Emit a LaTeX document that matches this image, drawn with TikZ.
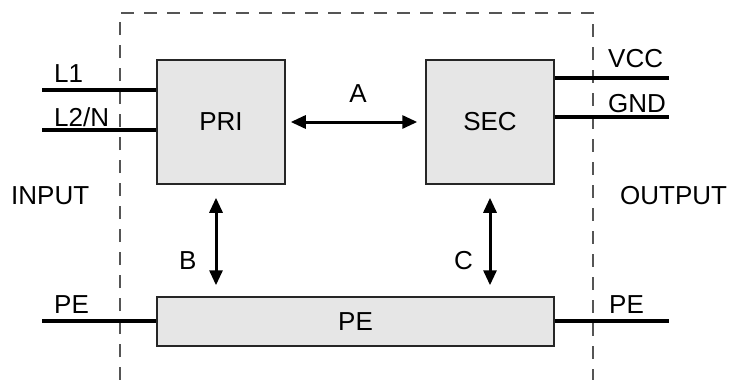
\documentclass[tikz,border=0pt]{standalone}
\usepackage{fontspec}
\setmainfont{Liberation Sans}
\usetikzlibrary{positioning,arrows.meta}
\definecolor{boxgray}{RGB}{230,230,230}
\definecolor{dashgray}{RGB}{85,85,85}
\newcommand{\lblfont}{\fontsize{26}{30}\selectfont}
\tikzset{
  blk/.style={draw=black!85,fill=boxgray,line width=1.5pt,inner sep=0pt,font=\lblfont},
  wire/.style={line width=3.2pt},
  arr/.style={{Triangle[length=15pt,width=13pt]}-{Triangle[length=15pt,width=13pt]},line width=3pt},
  lbl/.style={font=\lblfont,inner sep=0pt}
}

\begin{document}
\begin{tikzpicture}[x=1pt,y=-1pt]
  \useasboundingbox (0,0) rectangle (731,380);
  % isolation boundary
  \draw[dashgray,line width=1.4pt,dash pattern=on 13pt off 10pt] (120,380) -- (120,13) -- (593,13) -- (593,380);
  % blocks
  \node[blk,minimum width=128pt,minimum height=124pt] (pri) at (221,122) {PRI};
  \node[blk,minimum width=128pt,minimum height=124pt] (sec) at (490,122) {SEC};
  \node[blk,minimum width=397pt,minimum height=49pt] (pe) at (355.5,321.5) {PE};
  % free wire ends
  \coordinate (l1) at (42,90);
  \coordinate (l2) at (42,130);
  \coordinate (vcc) at (669,78);
  \coordinate (gnd) at (669,117);
  \coordinate (pein) at (42,321);
  \coordinate (peout) at (669,321);
  \draw[wire] (l1) -- (l1 -| pri.west);
  \draw[wire] (l2) -- (l2 -| pri.west);
  \draw[wire] (vcc -| sec.east) -- (vcc);
  \draw[wire] (gnd -| sec.east) -- (gnd);
  \draw[wire] (pein) -- (pein -| pe.west);
  \draw[wire] (peout -| pe.east) -- (peout);
  % isolation paths
  \draw[arr,shorten <=5pt,shorten >=8pt] (pri.east) -- (sec.west);
  \draw[arr,shorten <=13pt,shorten >=11pt] (pri.south -| 216,0) -- (pe.north -| 216,0);
  \draw[arr,shorten <=13pt,shorten >=11pt] (sec.south) -- (sec.south |- pe.north);
  % labels
  \node[lbl,anchor=base west] (tl1) at (54,82) {L1};
  \node[lbl,anchor=base west] (tl2) at (54,126) {L2/N};
  \node[lbl,anchor=base west] (tvcc) at (608,67) {VCC};
  \node[lbl,anchor=base west] (tgnd) at (608,112) {GND};
  \node[lbl,anchor=base west] (tin) at (11,204) {INPUT};
  \node[lbl,anchor=base west] (tout) at (620,204) {OUTPUT};
  \node[lbl,anchor=base west] (tpein) at (54,313) {PE};
  \node[lbl,anchor=base west] (tpeout) at (609,313) {PE};
  \node[lbl,anchor=base] (ta) at (358,102) {A};
  \node[lbl,anchor=base west] (tb) at (179,269) {B};
  \node[lbl,anchor=base west] (tc) at (454,269) {C};
\end{tikzpicture}
\end{document}
